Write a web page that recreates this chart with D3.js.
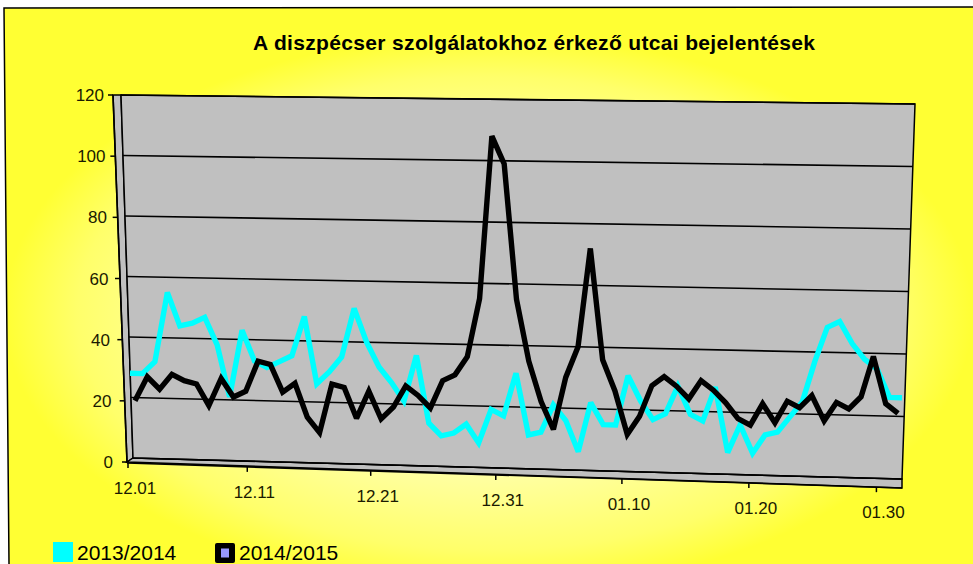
<!DOCTYPE html>
<html>
<head>
<meta charset="utf-8">
<script src="https://cdn.jsdelivr.net/npm/d3@7"></script>
<style>
html,body{margin:0;padding:0;background:#ffffff;}
svg{display:block;}
</style>
</head>
<body>
<svg id="chart" width="973" height="564"></svg>
<script>
// ---------------- DATA ----------------
const chartTitle = "A diszpécser szolgálatokhoz érkező utcai bejelentések";

const days = [
  "12.01","12.02","12.03","12.04","12.05","12.06","12.07","12.08","12.09","12.10",
  "12.11","12.12","12.13","12.14","12.15","12.16","12.17","12.18","12.19","12.20",
  "12.21","12.22","12.23","12.24","12.25","12.26","12.27","12.28","12.29","12.30",
  "12.31","01.01","01.02","01.03","01.04","01.05","01.06","01.07","01.08","01.09",
  "01.10","01.11","01.12","01.13","01.14","01.15","01.16","01.17","01.18","01.19",
  "01.20","01.21","01.22","01.23","01.24","01.25","01.26","01.27","01.28","01.29",
  "01.30","01.31","02.01"
];

const tickLabels = ["12.01","12.11","12.21","12.31","01.10","01.20","01.30"];
const yTickValues = [0, 20, 40, 60, 80, 100, 120];

const series2013_2014 = [
  28,28,32,55,44,45,47,38,21,43,
  33,31,33,35,48,26,30,35,51,40,
  32,27,21,36,14,10,11,14,8,19,
  17,31,11,12,21,16,6,22,15,15,
  31,23,17,19,28,19,17,28,7,16,
  7,13,14,19,24,37,48,50,43,38,
  35,26,26
];

const series2014_2015 = [
  19,27,23,28,26,25,18,27,21,23,
  33,32,23,26,15,10,26,25,15,24,
  15,19,26,23,19,28,30,36,55,108,
  99,55,35,22,13,30,40,72,36,26,
  12,18,28,31,28,24,30,27,23,18,
  16,23,17,24,22,26,18,24,22,26,
  39,24,21
];

const seriesNames = ["2013/2014", "2014/2015"];
const seriesColors = ["#00ffff", "#000000"];

// ---------------- DRAWING ----------------
const svg = d3.select("#chart");
const defs = svg.append("defs");

const grad = defs.append("radialGradient")
  .attr("id", "bgGrad").attr("cx", 0.5).attr("cy", 0.55).attr("r", 0.5);
grad.append("stop").attr("offset", "0").attr("stop-color", "#ffffc6");
grad.append("stop").attr("offset", "0.55").attr("stop-color", "#ffffa8");
grad.append("stop").attr("offset", "0.85").attr("stop-color", "#ffff6a");
grad.append("stop").attr("offset", "1").attr("stop-color", "#ffff33");

// chart frame
svg.append("path")
  .attr("d", "M4,8 L973,7 L973,564 L9,564 Z")
  .attr("fill", "url(#bgGrad)")
  .attr("stroke", "none");
svg.append("path")
  .attr("d", "M9,564 L4,8 L973,7")
  .attr("fill", "none").attr("stroke", "#000").attr("stroke-width", 1.5);

// wall geometry scales (3D back wall)
const yLeft  = d3.scaleLinear().domain([0, 120]).range([458, 95]);
const yRight = d3.scaleLinear().domain([0, 120]).range([479, 104]);
const xLeftEdge  = d3.scaleLinear().domain([0, 120]).range([133, 121]);
const xRightEdge = d3.scaleLinear().domain([0, 120]).range([902, 915]);
const tPos = d3.scaleLinear().domain([130, 902]).range([0, 1]);
function project(x, v) {
  const t = tPos(x);
  return [x, yLeft(v) * (1 - t) + yRight(v) * t];
}

// side wall (left strip)
const axisX = d3.scaleLinear().domain([0, 120]).range([127, 113]);
const axisY = d3.scaleLinear().domain([0, 120]).range([462, 95]);

svg.append("path")
  .attr("d", `M${axisX(120)},${axisY(120)} L${xLeftEdge(120)},${yLeft(120)} L${xLeftEdge(0)},${yLeft(0)} L${axisX(0)},${axisY(0)} Z`)
  .attr("fill", "#c0c0c0").attr("stroke", "#000").attr("stroke-width", 1.5);

// floor
const frontY = d3.scaleLinear().domain([127, 902]).range([463, 488]);
svg.append("path")
  .attr("d", `M${axisX(0)},${axisY(0)} L${xLeftEdge(0)},${yLeft(0)} L${xRightEdge(0)},${yRight(0)} L902,${frontY(902)} Z`)
  .attr("fill", "#c0c0c0").attr("stroke", "#000").attr("stroke-width", 1.5);

// back wall
svg.append("path")
  .attr("d", `M${xLeftEdge(120)},${yLeft(120)} L${xRightEdge(120)},${yRight(120)} L${xRightEdge(0)},${yRight(0)} L${xLeftEdge(0)},${yLeft(0)} Z`)
  .attr("fill", "#c0c0c0").attr("stroke", "#000").attr("stroke-width", 1.5);

// gridlines
svg.append("g").selectAll("line").data(yTickValues).join("line")
  .attr("x1", d => xLeftEdge(d)).attr("y1", d => yLeft(d))
  .attr("x2", d => xRightEdge(d)).attr("y2", d => yRight(d))
  .attr("stroke", "#000").attr("stroke-width", 1.6);

// series
const xSeries = [
  d3.scaleLinear().domain([0, days.length - 1]).range([130, 902]),
  d3.scaleLinear().domain([0, days.length - 1]).range([135, 898])
];
const allSeries = [series2013_2014, series2014_2015];
const lineGen = d3.line();
allSeries.forEach((vals, s) => {
  const pts = vals.map((v, i) => project(xSeries[s](i), v));
  svg.append("path")
    .attr("d", lineGen(pts))
    .attr("fill", "none")
    .attr("stroke", seriesColors[s])
    .attr("stroke-width", 5.4)
    .attr("stroke-linejoin", "miter")
    .attr("stroke-miterlimit", 2.5);
});

// y axis (front-left edge)
svg.append("line")
  .attr("x1", axisX(0)).attr("y1", axisY(0))
  .attr("x2", axisX(120)).attr("y2", axisY(120))
  .attr("stroke", "#000").attr("stroke-width", 1.6);
const yAxisG = svg.append("g");
yAxisG.selectAll("line").data(yTickValues).join("line")
  .attr("x1", d => axisX(d) - 5).attr("x2", d => axisX(d))
  .attr("y1", d => axisY(d)).attr("y2", d => axisY(d))
  .attr("stroke", "#000").attr("stroke-width", 1.5);
yAxisG.selectAll("text").data(yTickValues).join("text")
  .attr("x", d => axisX(d) - 9 - (1 - d / 120) * 5)
  .attr("y", d => axisY(d))
  .attr("dy", "0.36em")
  .attr("text-anchor", "end")
  .attr("font-family", "'Liberation Sans', Arial, sans-serif")
  .attr("font-size", 17)
  .attr("fill", "#1a1a00")
  .text(d => d);

// x axis (front floor edge)
const xAxisScale = d3.scalePow().exponent(1.025).domain([0, days.length - 1]).range([128, 902]);
svg.append("line")
  .attr("x1", axisX(0)).attr("y1", frontY(axisX(0)))
  .attr("x2", 902).attr("y2", frontY(902))
  .attr("stroke", "#000").attr("stroke-width", 1.6);
const xAxisG = svg.append("g");
xAxisG.selectAll("line").data(tickLabels).join("line")
  .attr("x1", d => xAxisScale(days.indexOf(d)))
  .attr("x2", d => xAxisScale(days.indexOf(d)))
  .attr("y1", d => frontY(xAxisScale(days.indexOf(d))))
  .attr("y2", d => frontY(xAxisScale(days.indexOf(d))) + 5)
  .attr("stroke", "#000").attr("stroke-width", 1.5);
xAxisG.selectAll("text").data(tickLabels).join("text")
  .attr("x", d => xAxisScale(days.indexOf(d)) + 7)
  .attr("y", d => frontY(xAxisScale(days.indexOf(d))) + 31)
  .attr("text-anchor", "middle")
  .attr("font-family", "'Liberation Sans', Arial, sans-serif")
  .attr("font-size", 17)
  .attr("fill", "#1a1a00")
  .text(d => d);

// title
svg.append("text")
  .attr("x", 534).attr("y", 50)
  .attr("text-anchor", "middle")
  .attr("font-family", "'Liberation Sans', Arial, sans-serif")
  .attr("font-weight", "bold")
  .attr("font-size", 21)
  .attr("textLength", 562)
  .attr("fill", "#000")
  .text(chartTitle);

// legend
const legendX = [53, 215];
const lg = svg.append("g");
seriesNames.forEach((name, s) => {
  const x0 = legendX[s];
  if (s === 0) {
    lg.append("rect").attr("x", x0).attr("y", 542).attr("width", 20).attr("height", 20)
      .attr("fill", seriesColors[0]);
  } else {
    lg.append("rect").attr("x", x0).attr("y", 543).attr("width", 20).attr("height", 20)
      .attr("rx", 2).attr("fill", seriesColors[1]);
    lg.append("rect").attr("x", x0 + 6).attr("y", 548.5).attr("width", 8).attr("height", 9)
      .attr("fill", "#9999ff");
  }
  lg.append("text")
    .attr("x", x0 + 24).attr("y", 560)
    .attr("font-family", "'Liberation Sans', Arial, sans-serif")
    .attr("font-size", 21)
    .attr("fill", "#000")
    .text(name);
});
</script>
</body>
</html>
